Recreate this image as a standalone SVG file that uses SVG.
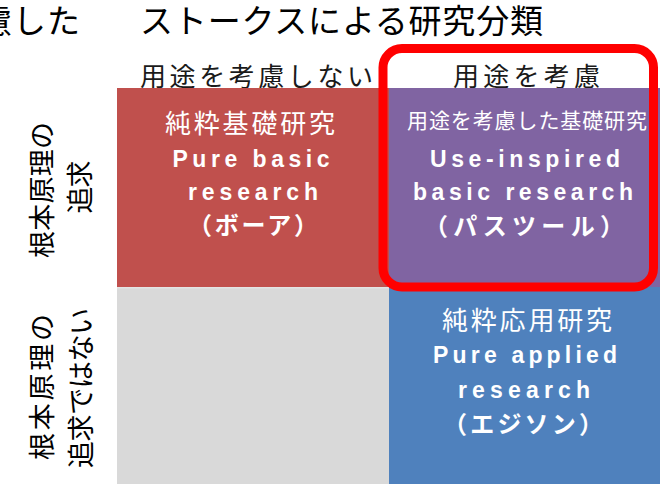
<svg xmlns="http://www.w3.org/2000/svg" width="660" height="486" viewBox="0 0 660 486">
<style>
.jp{font-family:"Noto Sans CJK JP","Noto Sans",sans-serif;}
.title{font-size:33px;fill:#000;}
.hdr{font-size:26px;fill:#1a1a1a;}
.side{font-size:27px;fill:#000;}
.cj{font-size:26px;fill:#fff;}
.cjs{font-size:21px;fill:#fff;}
.en{font-family:"Liberation Sans",Arial,sans-serif;font-weight:bold;font-size:23px;fill:#fff;}
.enj{font-family:"Noto Sans CJK JP",sans-serif;font-weight:bold;font-size:24px;fill:#fff;}
</style>
<rect width="660" height="486" fill="#fff"/>
<g id="title">
<text class="jp title" x="-21" y="33" textLength="101" lengthAdjust="spacing">慮した</text>
<text class="jp title" x="140" y="33" textLength="403" lengthAdjust="spacing">ストークスによる研究分類</text>
</g>
<g id="headers">
<text class="jp hdr" x="140" y="86" textLength="233" lengthAdjust="spacing">用途を考慮しない</text>
<text class="jp hdr" x="453" y="86" textLength="147" lengthAdjust="spacing">用途を考慮</text>
</g>
<g id="row-labels">
<text class="jp side" transform="translate(40,190) rotate(-90)" text-anchor="middle" dominant-baseline="central" textLength="136" lengthAdjust="spacing">根本原理の</text>
<text class="jp side" transform="translate(78,187) rotate(-90)" text-anchor="middle" dominant-baseline="central" textLength="53" lengthAdjust="spacing">追求</text>
<text class="jp side" transform="translate(40,387) rotate(-90)" text-anchor="middle" dominant-baseline="central" textLength="146" lengthAdjust="spacing">根本原理の</text>
<text class="jp side" transform="translate(79,388) rotate(-90)" text-anchor="middle" dominant-baseline="central" textLength="160" lengthAdjust="spacing">追求ではない</text>
</g>
<g id="pure-basic">
<rect x="117" y="88" width="272" height="199" fill="#C0504D"/>
<text class="jp cj" x="250" y="133" text-anchor="middle" textLength="170" lengthAdjust="spacing">純粋基礎研究</text>
<text class="en" x="251" y="167" text-anchor="middle" textLength="157" lengthAdjust="spacing">Pure basic</text>
<text class="en" x="253" y="200" text-anchor="middle" textLength="130" lengthAdjust="spacing">research</text>
<text class="enj" x="253" y="234" text-anchor="middle" textLength="130" lengthAdjust="spacing">（ボーア）</text>
</g>
<g id="none">
<rect x="117" y="288" width="272" height="196" fill="#D9D9D9"/>
<rect x="117" y="287" width="272" height="1.5" fill="#E4E4E4"/>
</g>
<g id="use-inspired">
<rect x="389" y="88" width="271" height="199" fill="#8064A2"/>
<text class="jp cjs" x="527" y="128" text-anchor="middle" textLength="240" lengthAdjust="spacing">用途を考慮した基礎研究</text>
<text class="en" x="525" y="167" text-anchor="middle" textLength="190" lengthAdjust="spacing">Use-inspired</text>
<text class="en" x="523" y="200" text-anchor="middle" textLength="220" lengthAdjust="spacing">basic research</text>
<text class="enj" x="524" y="235" text-anchor="middle" textLength="200" lengthAdjust="spacing">（パスツール）</text>
</g>
<g id="pure-applied">
<rect x="389" y="287" width="271" height="197" fill="#4F81BD"/>
<text class="jp cj" x="527" y="330" text-anchor="middle" textLength="170" lengthAdjust="spacing">純粋応用研究</text>
<text class="en" x="525" y="363" text-anchor="middle" textLength="184" lengthAdjust="spacing">Pure applied</text>
<text class="en" x="524" y="398" text-anchor="middle" textLength="132" lengthAdjust="spacing">research</text>
<text class="enj" x="523" y="433" text-anchor="middle" textLength="160" lengthAdjust="spacing">（エジソン）</text>
</g>
<g id="highlight">
<rect x="383" y="48.5" width="270.5" height="238.5" rx="19" ry="19" fill="none" stroke="#FF0000" stroke-width="9"/>
</g>
</svg>
